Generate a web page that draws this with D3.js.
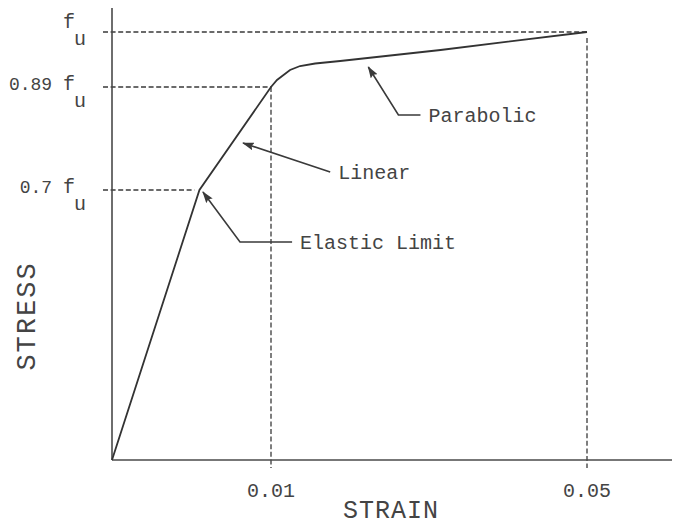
<!DOCTYPE html>
<html>
<head>
<meta charset="utf-8">
<script src="https://cdn.jsdelivr.net/npm/d3@7.9.0/dist/d3.min.js"></script>
<style>
  body { margin: 0; background: #fff; }
  text { font-family: "Liberation Mono", "DejaVu Sans Mono", monospace; fill: #444; }
</style>
</head>
<body>
<svg id="chart" width="684" height="525"></svg>
<script>
// schematic stress-strain curve (stress as fraction of fu)
const strain = [0, 0.0055, 0.01, 0.01076, 0.01241, 0.01368, 0.01559, 0.01876, 0.03146, 0.05];
const stress = [0, 0.7, 0.89, 0.904, 0.924, 0.932, 0.937, 0.942, 0.964, 1.0];

// reference lines / tick labels
const stressTicks = [1.0, 0.89, 0.7];
const stressTickLabels = ['', '0.89 ', '0.7 '];
const strainTicks = [0.01, 0.05];
const strainTickLabels = ['0.01', '0.05'];

// annotations: [tip, (elbow), end] in strain/stress units
const annoLabels = ['Linear', 'Parabolic', 'Elastic Limit'];
const annoStrain = [[0.00824, 0.01749], [0.02232, 0.02613, 0.02892], [0.00572, 0.00805, 0.01267]];
const annoStress = [[0.7867, 0.7332], [0.930, 0.8383, 0.8383], [0.6948, 0.5652, 0.5652]];

const svg = d3.select('#chart');
const ink = '#3a3a3a';

// the drawing is schematic, so the scales are piecewise
const x = d3.scaleLinear().domain([0, 0.01, 0.05, 0.0623]).range([112, 271, 587, 672]);
const y = d3.scaleLinear().domain([0, 0.7, 0.89, 1.0]).range([460, 190, 87, 32]);

svg.append('defs').append('marker')
  .attr('id', 'head')
  .attr('viewBox', '0 0 12 8')
  .attr('refX', 11).attr('refY', 4)
  .attr('markerWidth', 12).attr('markerHeight', 8)
  .attr('markerUnits', 'userSpaceOnUse')
  .attr('orient', 'auto')
  .append('path').attr('d', 'M0,0 L12,4 L0,8 L2,4 Z').attr('fill', ink);

const dash = '5,2.6';

// horizontal dashed lines to the curve
stressTicks.forEach((s, i) => {
  const xEnd = s === 1.0 ? x(0.05) : (s === 0.7 ? x(0.0055) - 5 : x(0.01));
  svg.append('line')
    .attr('x1', x(0) - 9).attr('x2', xEnd)
    .attr('y1', y(s)).attr('y2', y(s))
    .attr('stroke', ink).attr('stroke-width', 1.3).attr('stroke-dasharray', dash);
});

// vertical dashed lines
strainTicks.forEach((e, i) => {
  const top = e === 0.05 ? y(1.0) + 6 : y(0.89);
  svg.append('line')
    .attr('x1', x(e)).attr('x2', x(e))
    .attr('y1', top).attr('y2', y(0) + 8)
    .attr('stroke', ink).attr('stroke-width', 1.3).attr('stroke-dasharray', dash);
});

// axes
svg.append('line').attr('x1', x(0)).attr('x2', x(0)).attr('y1', 8).attr('y2', y(0))
  .attr('stroke', '#4a4a4a').attr('stroke-width', 1.6);
svg.append('line').attr('x1', x(0)).attr('x2', 672).attr('y1', y(0)).attr('y2', y(0))
  .attr('stroke', '#4a4a4a').attr('stroke-width', 1.6);

// the curve
const line = d3.line().x(d => x(d[0])).y(d => y(d[1]));
svg.append('path')
  .attr('d', line(d3.zip(strain, stress)))
  .attr('fill', 'none').attr('stroke', '#333').attr('stroke-width', 1.8);

// stress tick labels with subscript u
const labelShift = [-4, 3, 3];
stressTicks.forEach((s, i) => {
  const base = y(s) + labelShift[i];
  const t = svg.append('text')
    .attr('x', 75).attr('y', base)
    .attr('text-anchor', 'end')
    .attr('font-size', 18);
  t.append('tspan').text(stressTickLabels[i]);
  t.append('tspan').attr('font-size', 20).text('f');
  svg.append('text')
    .attr('x', 74).attr('y', base + 17)
    .attr('font-size', 20)
    .text('u');
});

// strain tick labels
strainTicks.forEach((e, i) => {
  svg.append('text')
    .attr('x', x(e)).attr('y', 497)
    .attr('text-anchor', 'middle')
    .attr('font-size', 20)
    .text(strainTickLabels[i]);
});

// axis titles
svg.append('text')
  .attr('x', 391).attr('y', 518)
  .attr('text-anchor', 'middle')
  .attr('font-size', 25)
  .attr('letter-spacing', 1)
  .text('STRAIN');
svg.append('text')
  .attr('transform', 'translate(35,316) rotate(-90)')
  .attr('text-anchor', 'middle')
  .attr('font-size', 27)
  .attr('letter-spacing', 2)
  .text('STRESS');

// annotation leaders
annoLabels.forEach((lab, i) => {
  const pts = d3.zip(annoStrain[i], annoStress[i]).reverse();
  svg.append('path')
    .attr('d', line(pts))
    .attr('fill', 'none').attr('stroke', ink).attr('stroke-width', 1.6)
    .attr('marker-end', 'url(#head)');
  const end = pts[0];
  svg.append('text')
    .attr('x', x(end[0]) + 8).attr('y', y(end[1]) + 7)
    .attr('font-size', 20)
    .text(lab);
});
</script>
</body>
</html>
